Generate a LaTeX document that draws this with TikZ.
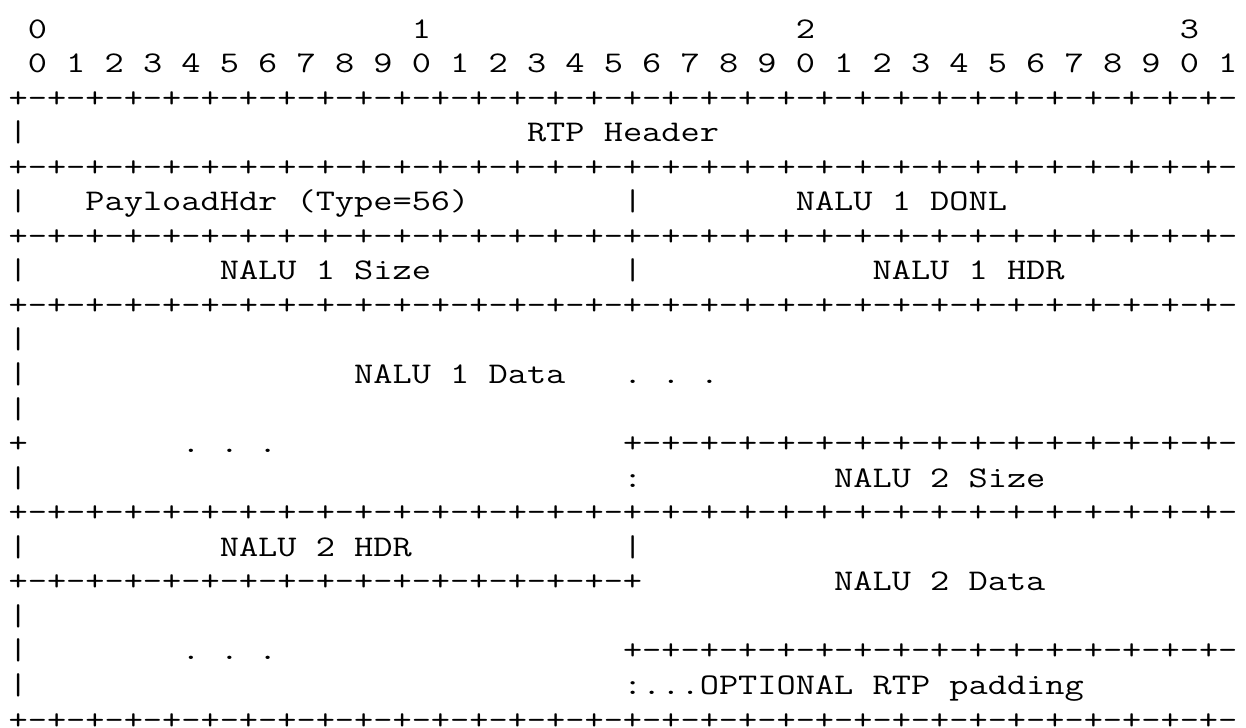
\documentclass[tikz,border=0pt]{standalone}
\usepackage{fontspec}
\usepackage{graphicx}
\usepackage{tikz}
\newcommand{\asciifont}{\ttfamily\fontsize{30pt}{34pt}\selectfont\frenchspacing}
\newcommand{\pairs}{+-+-+-+-+-+-+-+-+-+-+-+-+-+-+-+-}
\newcommand{\halfrule}{\pairs+}
\newcommand{\fullrule}{\pairs\pairs}
\newlength{\cellwd}
\AtBeginDocument{\settowidth{\cellwd}{\asciifont M}\pgfmathsetmacro\xfac{19.2/\cellwd}}
\newcommand{\cells}[1]{\scalebox{\xfac}[1]{#1}}
\tikzset{
  ascii/.style={font=\asciifont,inner sep=0pt,anchor=base west},
}
\begin{document}
\begin{tikzpicture}[x=19.2pt,y=-34.55pt]
  \useasboundingbox (0,0) rectangle (64.896,21.042);
  \begin{scope}[shift={(0.4375,1.1)}]
    % bit numbering
    \foreach \d in {0,...,3} \node[ascii] (dec\d) at (20*\d+1,0) {\cells{\d}};
    \foreach \b in {0,...,31} {
      \pgfmathtruncatemacro\digit{mod(\b,10)}
      \node[ascii] (bit\b) at (2*\b+1,1) {\cells{\digit}};
    }
    % rules and borders
    \foreach \r in {2,4,6,8,14,20} \node[ascii] (rule\r) at (0,\r) {\cells{\fullrule}};
    \foreach \r in {3,5,7,9,10,11,13,15,17,18,19} \node[ascii] (bar\r) at (0,\r) {\cells{|}};
    \foreach \r in {5,7,15} \node[ascii] (mid\r) at (32,\r) {\cells{|}};
    \node[ascii] (plus12) at (0,12) {\cells{+}};
    \node[ascii] (rule12) at (32,12) {\cells{\pairs}};
    \node[ascii] (rule16) at (0,16) {\cells{\halfrule}};
    \node[ascii] (rule18) at (32,18) {\cells{\pairs}};
    % fields
    \node[ascii] (rtp) at (27,3) {\cells{RTP Header}};
    \node[ascii] (plhdr) at (4,5) {\cells{PayloadHdr (Type=56)}};
    \node[ascii] (donl) at (41,5) {\cells{NALU 1 DONL}};
    \node[ascii] (size1) at (11,7) {\cells{NALU 1 Size}};
    \node[ascii] (hdr1) at (45,7) {\cells{NALU 1 HDR}};
    \node[ascii] (data1) at (18,10) {\cells{NALU 1 Data}};
    \node[ascii] (more1) at (32,10) {\cells{. . .}};
    \node[ascii] (more2) at (9,12) {\cells{. . .}};
    \node[ascii] (cont13) at (32,13) {\cells{:}};
    \node[ascii] (size2) at (43,13) {\cells{NALU 2 Size}};
    \node[ascii] (hdr2) at (11,15) {\cells{NALU 2 HDR}};
    \node[ascii] (data2) at (43,16) {\cells{NALU 2 Data}};
    \node[ascii] (more3) at (9,18) {\cells{. . .}};
    \node[ascii] (pad) at (32,19) {\cells{:...OPTIONAL RTP padding}};
  \end{scope}
\end{tikzpicture}
\end{document}
